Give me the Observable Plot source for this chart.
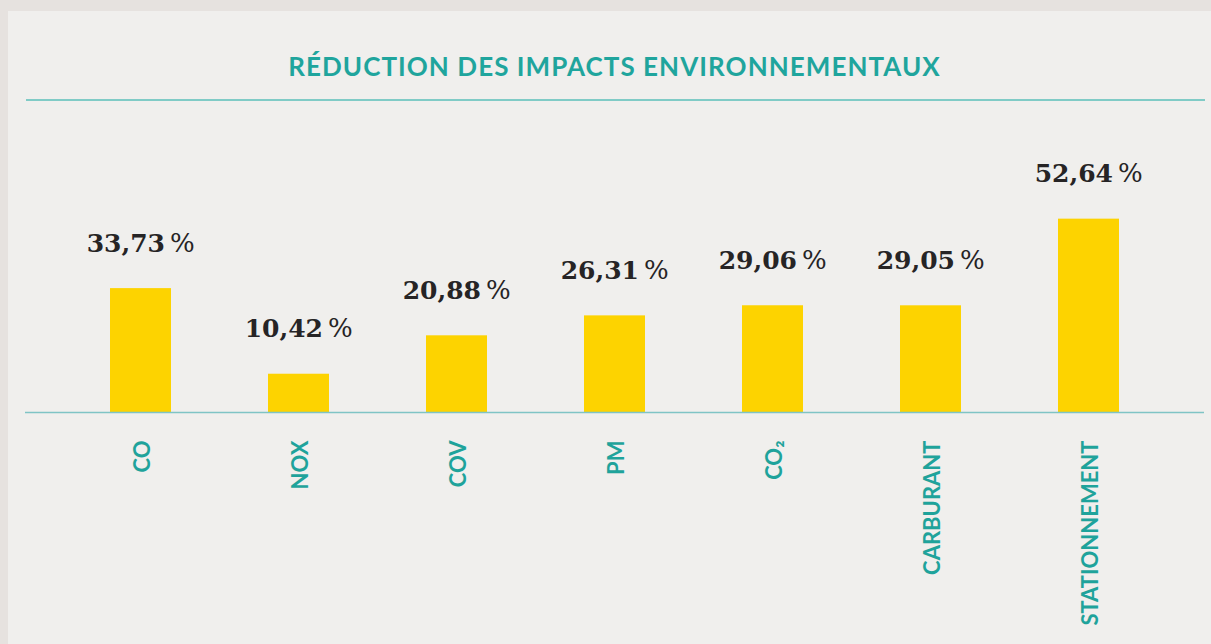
<!DOCTYPE html>
<html><head><meta charset="utf-8">
<script src="https://cdn.jsdelivr.net/npm/d3@7"></script>
<script src="https://cdn.jsdelivr.net/npm/@observablehq/plot@0.6"></script>
<style>
html,body{margin:0;padding:0;background:#e6e2df;width:1211px;height:644px;overflow:hidden;}
#panel{position:absolute;left:8px;top:11px;width:1203px;height:633px;background:#f0efed;}
#title{position:absolute;left:0;top:50px;width:1229px;text-align:center;font-family:Lato,sans-serif;font-weight:700;font-size:26px;line-height:32px;color:#1fa59d;letter-spacing:1.05px;}
#rule{position:absolute;left:26px;top:99px;width:1179px;height:2px;background:#80cbc6;}
#chart{position:absolute;left:0;top:100px;}
</style></head>
<body>
<div id="panel"></div>
<div id="title">RÉDUCTION DES IMPACTS ENVIRONNEMENTAUX</div>
<div id="rule"></div>
<div id="chart"></div>
<script>
const categories = ["CO", "NOX", "COV", "PM", "CO₂", "CARBURANT", "STATIONNEMENT"];
const values = [33.73, 10.42, 20.88, 26.31, 29.06, 29.05, 52.64];
const valueLabels = ["33,73", "10,42", "20,88", "26,31", "29,06", "29,05", "52,64"];

const data = categories.map((c, i) => ({cat: c, val: values[i], label: valueLabels[i]}));

const teal = "#1fa39b";
const chart = Plot.plot({
  width: 1211,
  height: 544,
  marginLeft: 25,
  marginRight: 7,
  marginTop: 20,
  marginBottom: 232,
  style: {background: "transparent", overflow: "visible"},
  x: {domain: categories, paddingInner: 0.614, paddingOuter: 0.533, axis: null},
  y: {domain: [0, 79.5], axis: null},
  marks: [
    Plot.barY(data, {x: "cat", y: "val", fill: "#fdd300"}),
    Plot.ruleY([0], {stroke: "#7fc4c5", strokeWidth: 1.5}),
    Plot.text(data, {x: "cat", y: "val", text: "label", dy: -37, dx: 24, lineAnchor: "bottom", textAnchor: "end",
      fontFamily: "DejaVu Serif", fontWeight: "bold", fontSize: 25, fill: "#262425"}),
    Plot.text(data, {x: "cat", y: "val", text: d => "%", dy: -37, dx: 29, lineAnchor: "bottom", textAnchor: "start",
      fontFamily: "DejaVu Serif", fontWeight: "normal", fontSize: 26, fill: "#262425"}),
    Plot.text(data, {x: "cat", frameAnchor: "bottom", text: "cat", rotate: -90, dy: 28, dx: 2, textAnchor: "end", lineAnchor: "middle",
      fontFamily: "Lato", fontWeight: "bold", fontSize: 22, fill: teal})
  ]
});
document.getElementById("chart").appendChild(chart);
</script>
</body></html>
